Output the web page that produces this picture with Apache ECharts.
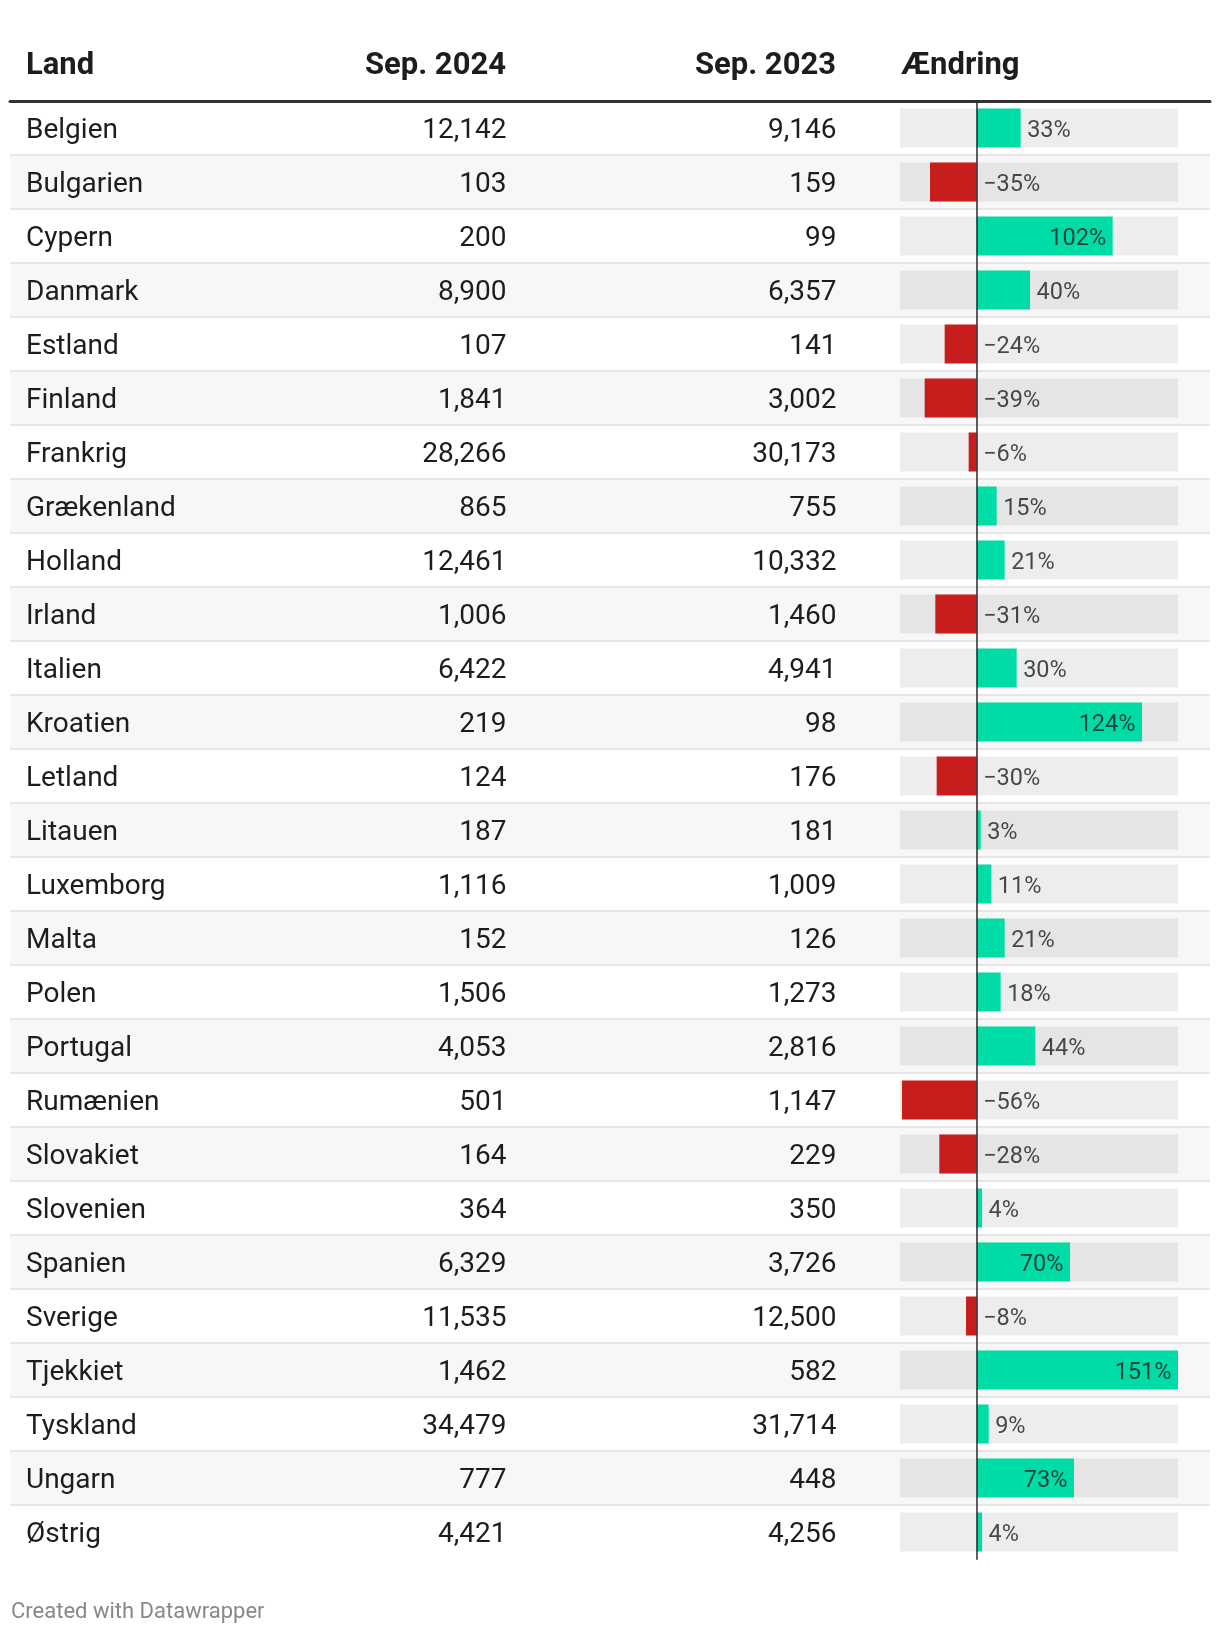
<!DOCTYPE html>
<html><head><meta charset="utf-8">
<script src="https://cdn.jsdelivr.net/npm/echarts@6/dist/echarts.min.js"></script>
<style>html,body{margin:0;padding:0;background:#fff}#c{width:1220px;height:1634px}</style>
</head><body><div id="c"></div>
<script>
const countries = ['Belgien','Bulgarien','Cypern','Danmark','Estland','Finland','Frankrig','Grækenland','Holland','Irland','Italien','Kroatien','Letland','Litauen','Luxemborg','Malta','Polen','Portugal','Rumænien','Slovakiet','Slovenien','Spanien','Sverige','Tjekkiet','Tyskland','Ungarn','Østrig'];
const sep2024 = [12142,103,200,8900,107,1841,28266,865,12461,1006,6422,219,124,187,1116,152,1506,4053,501,164,364,6329,11535,1462,34479,777,4421];
const sep2023 = [9146,159,99,6357,141,3002,30173,755,10332,1460,4941,98,176,181,1009,126,1273,2816,1147,229,350,3726,12500,582,31714,448,4256];
const changePct = [33,-35,102,40,-24,-39,-6,15,21,-31,30,124,-30,3,11,21,18,44,-56,-28,4,70,-8,151,9,73,4];
const headers = ['Land','Sep. 2024','Sep. 2023','Ændring'];
const footer = 'Created with Datawrapper';

const FONT = 'Roboto, "Noto Sans", sans-serif';
const TXT = '#1d1d1d';
const fmt = v => v.toLocaleString('en-US');
const fmtPct = v => (v < 0 ? '\u2212' + Math.abs(v) : String(v)) + '%';
const INSIDE_MIN = 60;

const TOP = 101, ROW_H = 54, N = countries.length;
const chart = echarts.init(document.getElementById('c'), null, {renderer:'canvas'});

const cellText = {fontFamily: FONT, fontSize: 28, color: TXT};
const sepColors = Array.from({length: N + 1}, (_, i) => (i === 0 || i === N) ? 'rgba(0,0,0,0)' : '#e6e6e6');
const headFont = 'bold 31px ' + FONT;
const HEAD_Y = 66.5;
const option = {
  animation: false,
  backgroundColor: '#ffffff',
  grid: [
    {left: 10, right: 10, top: TOP, height: ROW_H * N},
    {left: 900, right: 42, top: TOP, height: ROW_H * N}
  ],
  xAxis: [
    {gridIndex: 0, type: 'value', position: 'top', min: 0, max: 1, z: 5,
     axisLine: {show: true, onZero: false, lineStyle: {color: '#333333', width: 3}},
     axisTick: {show: false}, axisLabel: {show: false}, splitLine: {show: false}},
    {gridIndex: 1, type: 'value', min: -57.5, max: 151, show: false, splitLine: {show: false}}
  ],
  yAxis: [
    {gridIndex: 0, type: 'category', inverse: true, data: countries,
     axisLine: {show: false}, axisTick: {show: false},
     axisLabel: {
       inside: true, margin: 16, interval: 0, padding: [6, 0, 0, 0],
       formatter: (v, i) => `{a|${v}}{b|${fmt(sep2024[i])}}{c|${fmt(sep2023[i])}}`,
       rich: {
         a: Object.assign({width: 300, align: 'left'}, cellText),
         b: Object.assign({width: 180.5, align: 'right'}, cellText),
         c: Object.assign({width: 330, align: 'right'}, cellText)
       }
     },
     splitLine: {show: true, lineStyle: {color: sepColors, width: 2}},
     splitArea: {show: true, areaStyle: {color: ['#ffffff', '#f7f7f7']}}},
    {gridIndex: 1, type: 'category', inverse: true, data: countries, z: 10,
     axisLine: {show: true, onZero: true, lineStyle: {color: 'rgba(40,40,40,0.75)', width: 2}},
     axisTick: {show: false}, axisLabel: {show: false}, splitLine: {show: false}}
  ],
  series: [
    {type: 'bar', xAxisIndex: 1, yAxisIndex: 1, barWidth: 39,
     showBackground: true, backgroundStyle: {color: 'rgba(0,0,0,0.07)'},
     data: changePct.map(v => ({value: v, itemStyle: {color: v < 0 ? '#c71e1d' : '#00dca6'}}))},
    {type: 'scatter', xAxisIndex: 1, yAxisIndex: 1, symbolSize: 1, z: 4,
     itemStyle: {color: 'rgba(0,0,0,0)'},
     data: changePct.map((v, i) => ({
       value: [v < 0 ? 0 : v, countries[i]],
       label: {show: true, position: v >= INSIDE_MIN ? 'left' : 'right', distance: 6, offset: [0, 3],
               formatter: () => fmtPct(v), fontFamily: FONT, fontSize: 23.5, color: TXT}
     }))}
  ],
  graphic: [
    {type: 'text', x: 26, y: HEAD_Y, style: {text: headers[0], font: headFont, fill: TXT, align: 'left', verticalAlign: 'middle'}},
    {type: 'text', x: 506, y: HEAD_Y, style: {text: headers[1], font: headFont, fill: TXT, align: 'right', verticalAlign: 'middle'}},
    {type: 'text', x: 836, y: HEAD_Y, style: {text: headers[2], font: headFont, fill: TXT, align: 'right', verticalAlign: 'middle'}},
    {type: 'text', x: 901, y: HEAD_Y, style: {text: headers[3], font: headFont, fill: TXT, align: 'left', verticalAlign: 'middle'}},
    {type: 'text', x: 11, y: 1612, style: {text: footer, font: '22px ' + FONT, fill: '#888888', align: 'left', verticalAlign: 'middle'}}
  ]
};
chart.setOption(option);
</script>
</body></html>
